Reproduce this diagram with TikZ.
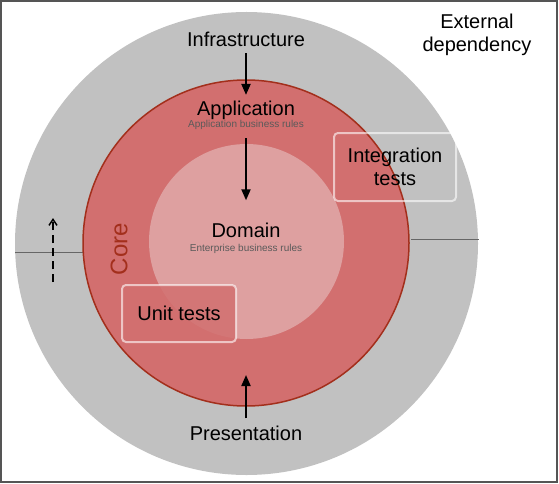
\documentclass[tikz,border=0pt]{standalone}
\usepackage{fontspec}
\setmainfont{Liberation Sans}
\usepackage{tikz}
\usetikzlibrary{arrows.meta,positioning}
\definecolor{ringgray}{HTML}{C1C1C1}
\definecolor{corered}{HTML}{D26F6F}
\definecolor{coreedge}{HTML}{A32F1C}
\definecolor{domainpink}{HTML}{DEA0A0}
\definecolor{subgray}{HTML}{5A5A5A}
\definecolor{framegray}{HTML}{555555}

\begin{document}
\begin{tikzpicture}[x=1pt, y=-1pt,
  label/.style={font=\fontsize{20}{23}\selectfont, inner sep=2pt, anchor=base},
  sublabel/.style={font=\fontsize{10}{12}\selectfont, text=subgray, inner sep=1pt, anchor=base},
  testbox/.style={draw=white, draw opacity=0.6, line width=2pt, rounded corners=4pt,
                  font=\fontsize{20}{23}\selectfont, align=center},
  arr/.style={-{Triangle[length=11pt,width=9pt]}, line width=2pt},
  dasharr/.style={-{Straight Barb[length=6pt,width=8pt]}, line width=1.5pt,
                  dash pattern=on 8pt off 5pt},
  divider/.style={draw=framegray!90, line width=1pt}]
\useasboundingbox (0,0) rectangle (559,484);
\draw[framegray, line width=2pt] (1,1) rectangle (557,482);
% rings
\fill[ringgray] (246.5,243.5) circle[radius=231.5];
\draw[divider] (15,252) -- (83,252);
\draw[divider] (411,239) -- (479,239);
\filldraw[fill=corered, draw=coreedge, line width=1.5pt] (246,243) circle[radius=163];
\fill[domainpink] (246.5,241.5) circle[radius=97.5];
% labels
\node[label] (infra) at (246,47) {Infrastructure};
\node[label] (app) at (246,116) {Application};
\node[sublabel] (appsub) at (246,128) {Application business rules};
\node[label] (domain) at (246,237) {Domain};
\node[sublabel] (domsub) at (246,251) {Enterprise business rules};
\node[label] (pres) at (246,440) {Presentation};
\node[font=\fontsize{24}{28}\selectfont, text=coreedge, rotate=90] (core) at (119,249) {Core};
\node[font=\fontsize{20}{23}\selectfont, align=center] (extdep) at (477,35) {External\\dependency};
% test boxes
\node[testbox, fill=corered, fill opacity=0.85, text opacity=1,
      minimum width=114pt, minimum height=57pt] (unit) at (179,313.5) {Unit tests};
\node[testbox, minimum width=122pt, minimum height=68pt] (integ) at (395,167) {Integration\\tests};
% arrows
\coordinate (prestip) at (246,375);
\coordinate (dashfoot) at (53,282);
\coordinate (dashhead) at (53,218);
\draw[arr, shorten <=4pt, shorten >=4.4pt] (infra) -- (app);
\draw[arr, shorten <=7pt, shorten >=20pt] (appsub) -- (domain);
\draw[arr, shorten <=5pt] (pres) -- (prestip);
\draw[dasharr] (dashfoot) -- (dashhead);
\end{tikzpicture}
\end{document}
